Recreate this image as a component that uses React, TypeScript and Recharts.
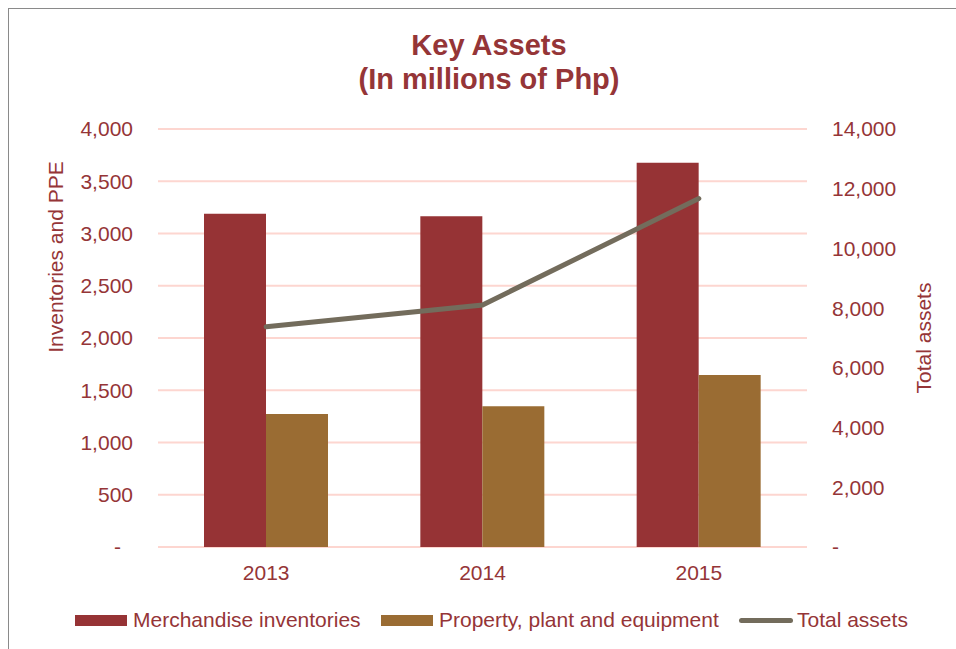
import {
  ComposedChart,
  Bar,
  Line,
  XAxis,
  YAxis,
  CartesianGrid,
} from "recharts";

const years = ["2013", "2014", "2015"];
const merchandise = [3188, 3166, 3677];
const ppe = [1272, 1348, 1646];
const totalAssets = [7379, 8107, 11672];

const leftTicks = [0, 500, 1000, 1500, 2000, 2500, 3000, 3500, 4000];
const rightTicks = [0, 2000, 4000, 6000, 8000, 10000, 12000, 14000];

const RED = "#963335";
const BROWN = "#9A6C33";
const GRAY = "#736C5C";
const TEXT = "#953537";
const FONT = "'Liberation Sans', Arial, sans-serif";

const data = years.map((year, i) => ({
  year,
  merchandise: merchandise[i],
  ppe: ppe[i],
  total: totalAssets[i],
}));

const fmt = (v: number) => (v === 0 ? "-" : v.toLocaleString("en-US"));

// Excel accounting format pads the "-" on the left axis
function LeftTick(props: any) {
  const { x, y, payload } = props;
  const shift = payload.value === 0 ? 12 : 0;
  return (
    <text x={x - shift} y={y} dy="0.355em" textAnchor="end" fill={TEXT} fontSize={21} fontFamily={FONT}>
      {fmt(payload.value)}
    </text>
  );
}

const legendItems = [
  { name: "Merchandise inventories", color: RED, type: "bar", x: 75 },
  { name: "Property, plant and equipment", color: BROWN, type: "bar", x: 381 },
  { name: "Total assets", color: GRAY, type: "line", x: 739 },
];

export default function App() {
  return (
    <div
      style={{
        position: "absolute",
        left: 0,
        top: 0,
        width: 956,
        height: 649,
        background: "#fff",
        overflow: "hidden",
        fontFamily: FONT,
      }}
    >
      {/* frame */}
      <div
        style={{
          position: "absolute",
          left: 8,
          top: 8,
          width: 1000,
          height: 700,
          border: "1.5px solid #8a8a8a",
        }}
      />

      {/* Title */}
      <div
        style={{
          position: "absolute",
          left: 0,
          top: 28,
          width: 978,
          textAlign: "center",
          color: TEXT,
          fontWeight: 700,
          fontSize: 29,
          lineHeight: "34px",
        }}
      >
        Key Assets
        <br />
        (In millions of Php)
      </div>

      <div style={{ position: "absolute", left: 0, top: 0 }}>
        <ComposedChart
          width={956}
          height={649}
          data={data}
          margin={{ top: 129, right: 69, bottom: 62, left: 78 }}
          barGap={0}
        >
          <CartesianGrid
            vertical={false}
            stroke="#FDD6D0"
            strokeWidth={2}
            yAxisId="left"
          />
          <XAxis
            dataKey="year"
            axisLine={false}
            tickLine={false}
            tickSize={0}
            tickMargin={18}
            height={40}
            tick={{ fill: TEXT, fontSize: 21, fontFamily: FONT }}
          />
          <YAxis
            yAxisId="left"
            orientation="left"
            domain={[0, 4000]}
            ticks={leftTicks}
            width={80}
            axisLine={false}
            tickLine={false}
            tickSize={0}
            tickMargin={25}
            tick={<LeftTick />}
            interval={0}
          />
          <YAxis
            yAxisId="right"
            orientation="right"
            domain={[0, 14000]}
            ticks={rightTicks}
            width={80}
            axisLine={false}
            tickLine={false}
            tickSize={0}
            tickMargin={25}
            tickFormatter={fmt}
            tick={{ fill: TEXT, fontSize: 21, fontFamily: FONT, textAnchor: "start" }}
            interval={0}
          />
          <Bar
            yAxisId="left"
            dataKey="merchandise"
            name="Merchandise inventories"
            fill={RED}
            barSize={62}
            isAnimationActive={false}
          />
          <Bar
            yAxisId="left"
            dataKey="ppe"
            name="Property, plant and equipment"
            fill={BROWN}
            barSize={62}
            isAnimationActive={false}
          />
          <Line
            yAxisId="right"
            dataKey="total"
            name="Total assets"
            stroke={GRAY}
            strokeWidth={5}
            strokeLinecap="round"
            dot={false}
            activeDot={false}
            isAnimationActive={false}
          />
        </ComposedChart>
      </div>

      {/* Axis titles */}
      <div
        style={{
          position: "absolute",
          left: 56,
          top: 257,
          transform: "translate(-50%, -50%) rotate(-90deg)",
          whiteSpace: "nowrap",
          color: TEXT,
          fontSize: 21,
        }}
      >
        Inventories and PPE
      </div>
      <div
        style={{
          position: "absolute",
          left: 924,
          top: 338,
          transform: "translate(-50%, -50%) rotate(-90deg)",
          whiteSpace: "nowrap",
          color: TEXT,
          fontSize: 21,
        }}
      >
        Total assets
      </div>

      {/* Legend */}
      {legendItems.map((item) => (
        <div
          key={item.name}
          style={{
            position: "absolute",
            left: item.x,
            top: 607,
            height: 26,
            display: "flex",
            alignItems: "center",
            color: TEXT,
            fontSize: 21,
            whiteSpace: "nowrap",
          }}
        >
          {item.type === "bar" ? (
            <span style={{ width: 52, height: 11, background: item.color, marginRight: 6 }} />
          ) : (
            <span
              style={{ width: 54, height: 5, borderRadius: 3, background: item.color, marginRight: 4 }}
            />
          )}
          {item.name}
        </div>
      ))}
    </div>
  );
}
